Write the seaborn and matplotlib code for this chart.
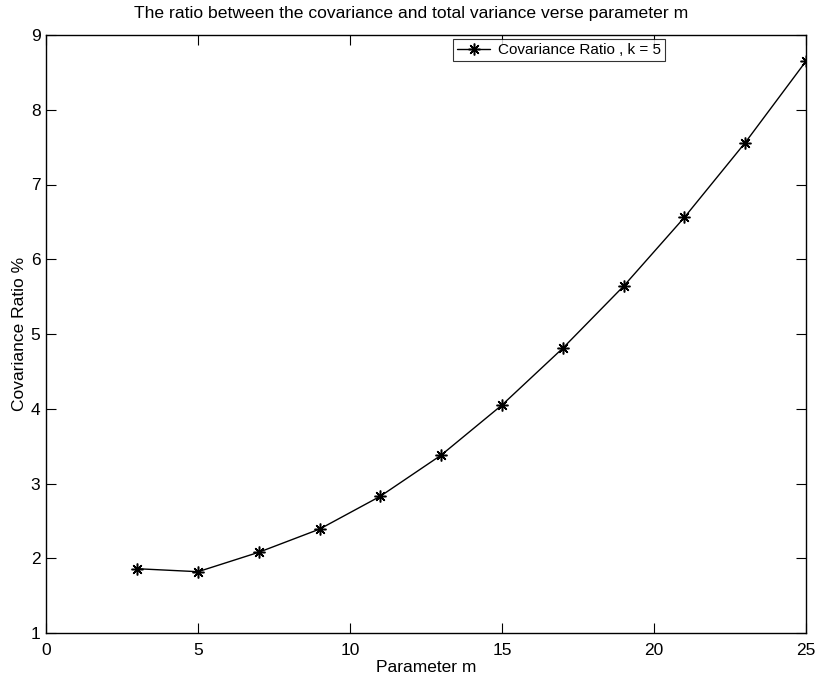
import matplotlib
matplotlib.use("Agg")
import matplotlib.pyplot as plt
import seaborn as sns
import pandas as pd

m_values = [3, 5, 7, 9, 11, 13, 15, 17, 19, 21, 23, 25]
cov_ratio = [1.86, 1.82, 2.08, 2.39, 2.83, 3.38, 4.05, 4.81, 5.64, 6.56, 7.56, 8.65]
x_ticks = [0, 5, 10, 15, 20, 25]
y_ticks = [1, 2, 3, 4, 5, 6, 7, 8, 9]

sns.set_theme(style="white")
plt.rcParams['font.family'] = ['Liberation Sans', 'DejaVu Sans']
plt.rcParams['text.color'] = 'black'
plt.rcParams['axes.labelcolor'] = 'black'

df = pd.DataFrame({"m": m_values, "ratio": cov_ratio})

fig = plt.figure(figsize=(8.16, 6.76), dpi=100)
ax = fig.add_axes([46/816, 43/676, 760/816, 598/676])

sns.lineplot(data=df, x="m", y="ratio", ax=ax, color="black", linewidth=1.0,
             marker=(8, 2, 0), markersize=8.5, markeredgewidth=1.1,
             markeredgecolor="black", markerfacecolor="black",
             label="Covariance Ratio , k = 5")

ax.set_xlim(0, 25)
ax.set_ylim(1, 9)
ax.set_xticks(x_ticks)
ax.set_yticks(y_ticks)
ax.tick_params(direction="in", length=7, width=0.8, top=True, right=True,
               bottom=True, left=True, labelsize=12.5, colors="black")
ax.tick_params(axis="x", pad=7)
ax.tick_params(axis="y", pad=4)
for s in ax.spines.values():
    s.set_color("black")
    s.set_linewidth(1.0)

ax.set_xlabel("Parameter m", fontsize=12.5, labelpad=2, color="black")
ax.set_ylabel("Covariance Ratio %", fontsize=12.5, labelpad=3, color="black")
ax.set_title("The ratio between the covariance and total variance verse parameter m",
             fontsize=12.6, pad=12, color="black", x=0.48)

leg = ax.legend(loc="upper left", bbox_to_anchor=((453-46)/760, 0.993),
                frameon=True, fancybox=False, fontsize=11, handlelength=2.2,
                borderpad=0.25, handletextpad=0.5, borderaxespad=0)
leg.get_frame().set_edgecolor("black")
leg.get_frame().set_linewidth(0.8)
for t in leg.get_texts():
    t.set_color("black")

fig.savefig("out.png", dpi=100)
